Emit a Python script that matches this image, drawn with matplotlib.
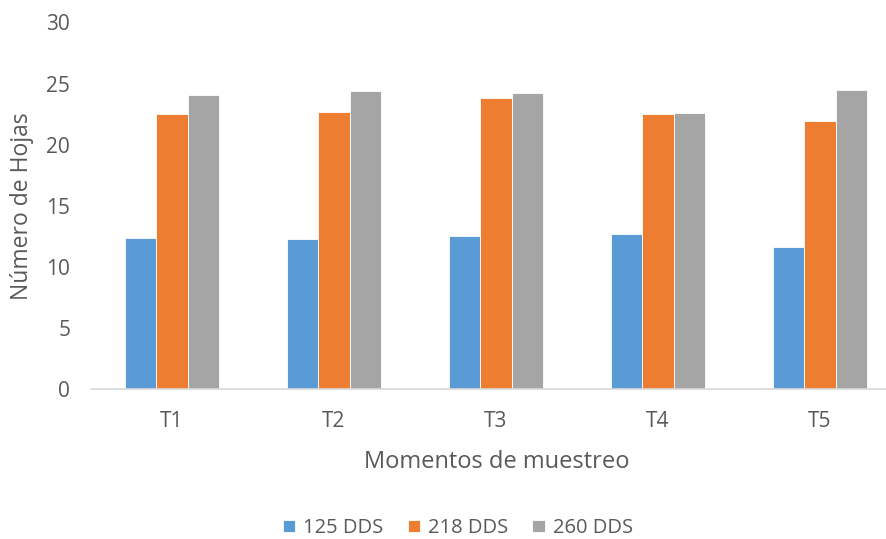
import numpy as np
import matplotlib.pyplot as plt

plt.rcParams['font.family'] = ['Open Sans', 'DejaVu Sans']

categories = ['T1', 'T2', 'T3', 'T4', 'T5']
series_names = ['125 DDS', '218 DDS', '260 DDS']
dds125 = [12.4, 12.3, 12.5, 12.65, 11.65]
dds218 = [22.5, 22.65, 23.8, 22.5, 21.9]
dds260 = [24.1, 24.4, 24.25, 22.6, 24.45]
colors = ['#5b9bd5', '#ed7d31', '#a5a5a5']

fig = plt.figure(figsize=(8.87, 5.39), dpi=100)
ax = fig.add_axes([91 / 887, 150 / 539, 810 / 887, 366.5 / 539])

x = np.arange(len(categories))
w = 0.192
for i, (vals, name) in enumerate(zip([dds125, dds218, dds260], series_names)):
    ax.bar(x + (i - 1) * w, vals, w, color=colors[i], label=name,
           edgecolor='white', linewidth=0.6)

ax.set_xlim(-0.5, 4.5)
ax.set_ylim(0, 30)
ax.set_yticks(range(0, 31, 5))
ax.set_xticks(x)
ax.set_xticklabels(categories)
for s in ['top', 'right', 'left']:
    ax.spines[s].set_visible(False)
ax.spines['bottom'].set_color('#d9d9d9')
ax.spines['bottom'].set_linewidth(1.2)
ax.tick_params(axis='both', length=0, labelsize=15, colors='#595959')
ax.tick_params(axis='x', pad=16)
ax.tick_params(axis='y', pad=15)

ax.set_ylabel('Número de Hojas', fontsize=16.5, color='#595959', labelpad=9)
fig.text(497 / 887, 1 - 462 / 539, 'Momentos de muestreo', fontsize=17,
         color='#595959', ha='center', va='center')

fig.legend(loc='center', bbox_to_anchor=(458 / 887, 1 - 528 / 539), ncol=3,
           frameon=False, fontsize=14.5, handlelength=0.6, handleheight=0.6,
           handletextpad=0.4, columnspacing=1.2, labelcolor='#595959')

fig.savefig('out.png', dpi=100)
